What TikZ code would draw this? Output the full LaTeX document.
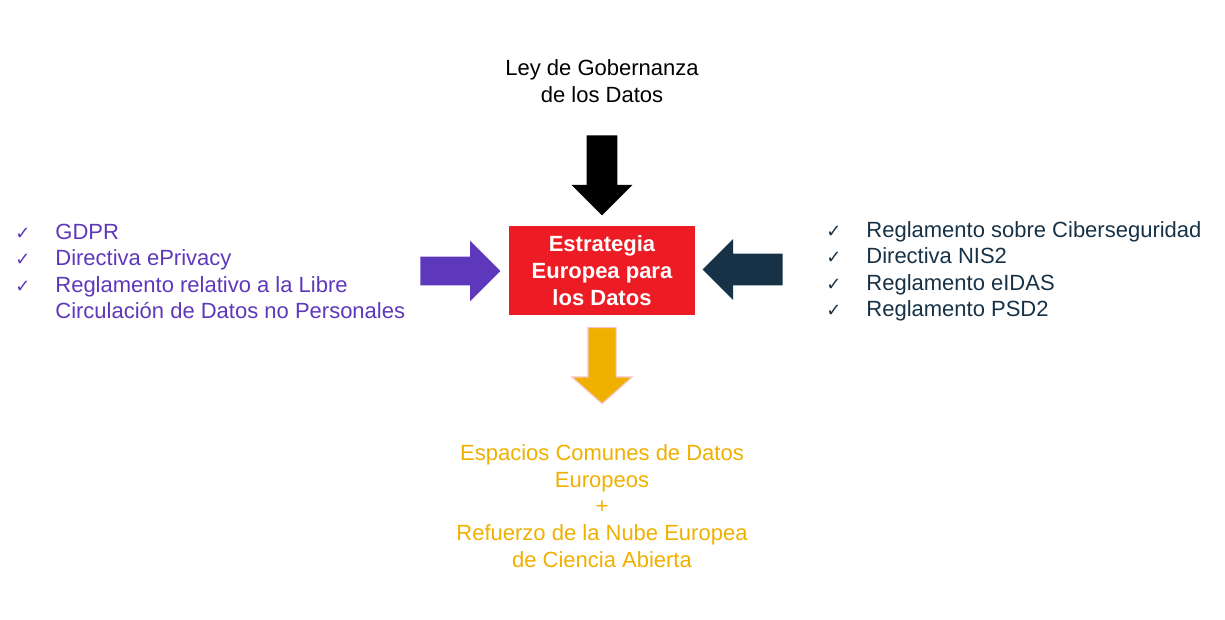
\documentclass[tikz,border=0pt]{standalone}
\usepackage{fontspec}
\setmainfont{Liberation Sans}
\newfontfamily\symfont{DejaVu Sans}
\usetikzlibrary{shapes.arrows}
\definecolor{eured}{RGB}{237,28,36}
\definecolor{eupurple}{RGB}{94,56,186}
\definecolor{eunavy}{RGB}{23,50,71}
\definecolor{eugold}{RGB}{240,176,0}
\definecolor{eupink}{RGB}{248,196,200}
\newcommand{\chk}{\makebox[20pt][l]{\symfont\fontsize{9}{9}\selectfont ✓}}
\tikzset{
  txt/.style={inner sep=0pt, align=center, font=\fontsize{11}{13.4}\selectfont},
  lst/.style={inner sep=0pt, align=left, font=\fontsize{11}{13.25}\selectfont},
  blockarrow/.style={single arrow, draw=none, anchor=tail, inner xsep=0pt, inner ysep=7.5pt,
    minimum width=0pt, minimum height=40pt, single arrow head extend=7.5pt}
}
\begin{document}
\begin{tikzpicture}[x=0.5pt,y=-0.5pt]
\useasboundingbox (0,0) rectangle (1225,620);
\node[txt] (ley) at (602,81){Ley de Gobernanza\\de los Datos};
\node[blockarrow, fill=black, rotate=-90] (arrtop) at (602,135){};
\node[rectangle, fill=eured, minimum width=93pt, minimum height=44.5pt, inner sep=0pt, align=center,
  text=white, font=\fontsize{11}{13.5}\selectfont\bfseries] (estr) at (602,270.5){Estrategia\\Europea para\\los Datos};
\node[blockarrow, fill=eupurple, inner ysep=7pt, single arrow head extend=8pt] (arrleft) at (420,271){};
\node[blockarrow, fill=eunavy, inner ysep=7.75pt, single arrow head extend=7.25pt, rotate=180] (arrright) at (783,269.5){};
\node[blockarrow, fill=eugold, draw=eupink, line width=0.6pt, inner ysep=6.75pt, single arrow head extend=8pt,
  minimum height=38pt, single arrow tip angle=97, rotate=-90] (arrbot) at (602,327){};
\node[lst, anchor=west, text=eupurple] (listL) at (15,271.5){\chk GDPR\\\chk Directiva ePrivacy\\\chk Reglamento relativo a la Libre\\\hspace{20pt}Circulación de Datos no Personales};
\node[lst, anchor=west, text=eunavy] (listR) at (826,271.5){\chk Reglamento sobre Ciberseguridad\\\chk Directiva NIS2\\\chk Reglamento eIDAS\\\chk Reglamento PSD2};
\node[txt, text=eugold, font=\fontsize{11}{13.35}\selectfont] (espacios) at (602,506){Espacios Comunes de Datos\\Europeos\\+\\Refuerzo de la Nube Europea\\de Ciencia Abierta};
\end{tikzpicture}
\end{document}
